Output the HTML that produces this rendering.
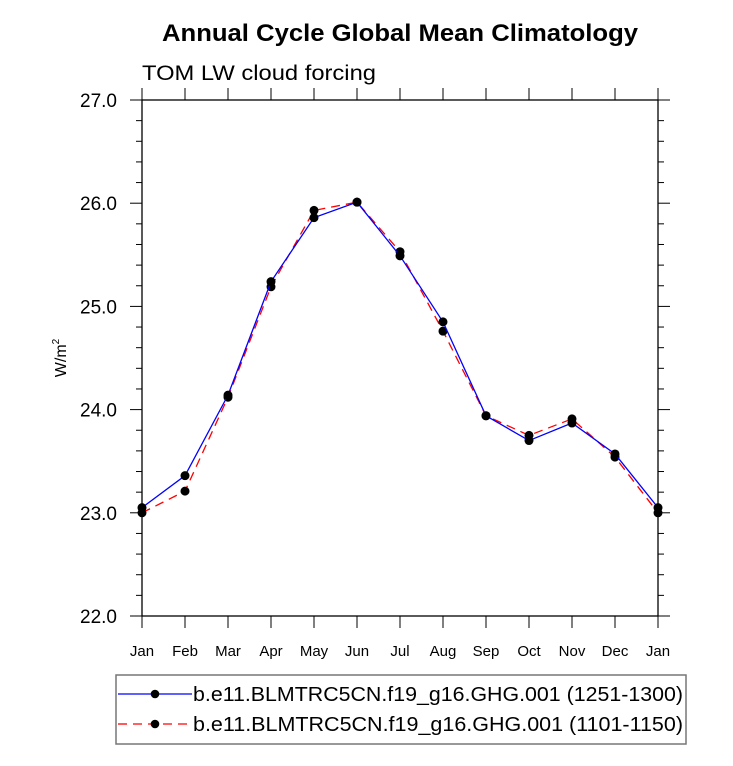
<!DOCTYPE html>
<html><head><meta charset="utf-8"><style>
body{margin:0;background:#fff;}
svg{display:block;font-family:"Liberation Sans",sans-serif;}
</style></head><body>
<svg id="c" width="733" height="766" xmlns="http://www.w3.org/2000/svg">
<text x="162" y="41" textLength="476" lengthAdjust="spacingAndGlyphs" font-size="24" font-weight="bold">Annual Cycle Global Mean Climatology</text>
<text x="142" y="80" textLength="234" lengthAdjust="spacingAndGlyphs" font-size="21">TOM LW cloud forcing</text>
<text transform="translate(66,358) rotate(-90)" text-anchor="middle" font-size="16">W/m<tspan font-size="10" dy="-7">2</tspan></text>
<g id="axes"></g>
<g id="series"></g>
<rect x="116" y="675" width="570" height="69" fill="none" stroke="#777" stroke-width="1.5"/>
<g>
<line x1="118" y1="694" x2="192" y2="694" stroke="#0000ff" stroke-width="1.3"/>
<circle cx="155" cy="694" r="4.3" fill="#000"/>
<text x="193" y="701" font-size="20" textLength="490" lengthAdjust="spacingAndGlyphs">b.e11.BLMTRC5CN.f19_g16.GHG.001 (1251-1300)</text>
</g>
<g>
<line x1="118" y1="724" x2="192" y2="724" stroke="#ff0000" stroke-width="1.3" stroke-dasharray="9,6"/>
<circle cx="155" cy="724" r="4.3" fill="#000"/>
<text x="193" y="731" font-size="20" textLength="490" lengthAdjust="spacingAndGlyphs">b.e11.BLMTRC5CN.f19_g16.GHG.001 (1101-1150)</text>
</g>
</svg>
<script>
const months=["Jan","Feb","Mar","Apr","May","Jun","Jul","Aug","Sep","Oct","Nov","Dec","Jan"];
const blueVals=[23.05,23.36,24.14,25.24,25.86,26.01,25.49,24.85,23.94,23.70,23.87,23.57,23.05];
const redVals=[23.00,23.21,24.12,25.19,25.93,26.01,25.53,24.76,23.94,23.75,23.91,23.54,23.00];
const yTicks=[22.0,23.0,24.0,25.0,26.0,27.0];
const yTickLabels=["22.0","23.0","24.0","25.0","26.0","27.0"];
const NS="http://www.w3.org/2000/svg";
const L=142,R=658,T=100,B=616,ymin=22,ymax=27;
function xs(i){return L+(R-L)*i/(months.length-1);}
function ys(v){return B-(v-ymin)/(ymax-ymin)*(B-T);}
function mk(tag,a,p){const e=document.createElementNS(NS,tag);for(const k in a)e.setAttribute(k,a[k]);p.appendChild(e);return e;}
const ax=document.getElementById('axes');
const frame=mk('rect',{x:L,y:T,width:R-L,height:B-T,fill:'none',stroke:'#000','stroke-width':1.3},ax);


for(let v=ymin;v<=ymax+1e-6;v+=0.2){
  const y=ys(v);const major=Math.abs(v-Math.round(v))<1e-6;const len=major?12:6;
  mk('line',{x1:L-len,y1:y,x2:L,y2:y,stroke:'#000','stroke-width':1},ax);
  mk('line',{x1:R,y1:y,x2:R+len,y2:y,stroke:'#000','stroke-width':1},ax);
}
yTicks.forEach((v,i)=>{
  const t=mk('text',{x:L-25,y:ys(v)+7,'text-anchor':'end','font-size':19},ax);
  t.textContent=yTickLabels[i];
  
  
});
months.forEach((m,i)=>{
  const x=xs(i);
  mk('line',{x1:x,y1:B,x2:x,y2:B+12,stroke:'#000','stroke-width':1},ax);
  mk('line',{x1:x,y1:T-12,x2:x,y2:T,stroke:'#000','stroke-width':1},ax);
  const t=mk('text',{x:x,y:B+40,'text-anchor':'middle','font-size':15},ax);
  t.textContent=m;
  
  
});
const sg=document.getElementById('series');
function draw(vals,color,dash,name){
  const g=mk('g',{},sg);
  
  
  const pts=vals.map((v,i)=>xs(i)+','+ys(v)).join(' ');
  const a={points:pts,fill:'none',stroke:color,'stroke-width':1.3};
  if(dash)a['stroke-dasharray']=dash;
  mk('polyline',a,g);
  vals.forEach((v,i)=>{
    const c=mk('circle',{cx:xs(i),cy:ys(v),r:4.5,fill:'#000'},g);
    
    
  });
}
draw(redVals,'#ff0000','9,6','series-1101-1150');
draw(blueVals,'#0000ff',null,'series-1251-1300');
</script>
</body></html>
